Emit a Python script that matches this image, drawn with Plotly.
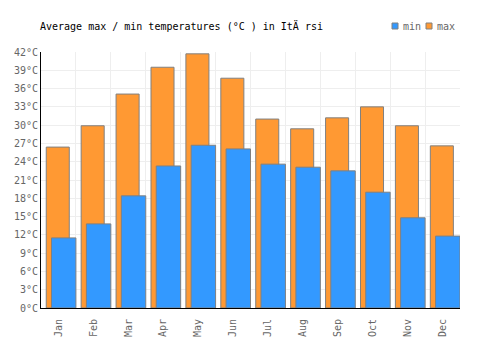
import plotly.graph_objects as go

months = ["Jan", "Feb", "Mar", "Apr", "May", "Jun", "Jul", "Aug", "Sep", "Oct", "Nov", "Dec"]
max_temp = [26.4, 29.9, 35.1, 39.5, 41.7, 37.7, 31.0, 29.4, 31.2, 33.0, 29.9, 26.6]
min_temp = [11.5, 13.8, 18.4, 23.3, 26.7, 26.1, 23.6, 23.1, 22.5, 19.0, 14.8, 11.8]
y_ticks = list(range(0, 43, 3))
y_tick_labels = [f"{v}°C" for v in y_ticks]

font = "DejaVu Sans Mono"
W, H = 500, 350
ML, MR, MT, MB = 41, 40, 52, 42
PW, PH = W - ML - MR, H - MT - MB

def px_x(x):
    return (x - ML) / PW

def px_y(y):
    return (H - MB - y) / PH

fig = go.Figure()
fig.add_trace(go.Bar(
    x=months, y=max_temp, name="max", showlegend=False,
    marker=dict(color="#FF9933", line=dict(color="#808080", width=1)),
    width=0.66, offset=-0.35,
))
fig.add_trace(go.Bar(
    x=months, y=min_temp, name="min", showlegend=False,
    marker=dict(color="#3399FF", line=dict(color="#808080", width=1)),
    width=0.70, offset=-0.2,
))

# custom compact legend
legend_items = [("min", "#3399FF", 392), ("max", "#FF9933", 426)]
shapes = []
annotations = []
for name, color, x0 in legend_items:
    shapes.append(dict(type="rect", xref="paper", yref="paper",
                       x0=px_x(x0), x1=px_x(x0 + 6), y0=px_y(29), y1=px_y(23),
                       fillcolor=color, line=dict(color="#808080", width=1)))
    annotations.append(dict(text=name, xref="paper", yref="paper",
                            x=px_x(x0 + 9), y=px_y(26), xanchor="left", yanchor="middle",
                            showarrow=False,
                            font=dict(family=font, size=10, color="#666666")))

fig.update_layout(
    width=W, height=H,
    margin=dict(l=ML, r=MR, t=MT, b=MB),
    barmode="overlay",
    showlegend=False,
    plot_bgcolor="white", paper_bgcolor="white",
    font=dict(family=font, size=10, color="#666666"),
    title=dict(text="Average max / min temperatures (°C ) in ItÄ rsi",
               x=40 / W, xanchor="left", y=1 - 26 / H, yanchor="middle",
               font=dict(family=font, size=10, color="#000000")),
    shapes=shapes,
    annotations=annotations,
    xaxis=dict(showgrid=True, gridcolor="#eeeeee", tickangle=-90, tickson="boundaries",
               showline=True, linecolor="#000000", linewidth=1, mirror=False,
               ticks="", ticklabelstandoff=6,
               tickfont=dict(family=font, size=10, color="#666666")),
    yaxis=dict(range=[0, 42], tickvals=y_ticks, ticktext=y_tick_labels,
               showgrid=True, gridcolor="#eeeeee", showline=True, linecolor="#000000",
               linewidth=1, zeroline=False, ticks="",
               tickfont=dict(family=font, size=10, color="#666666")),
)
fig.write_html("out.html")
